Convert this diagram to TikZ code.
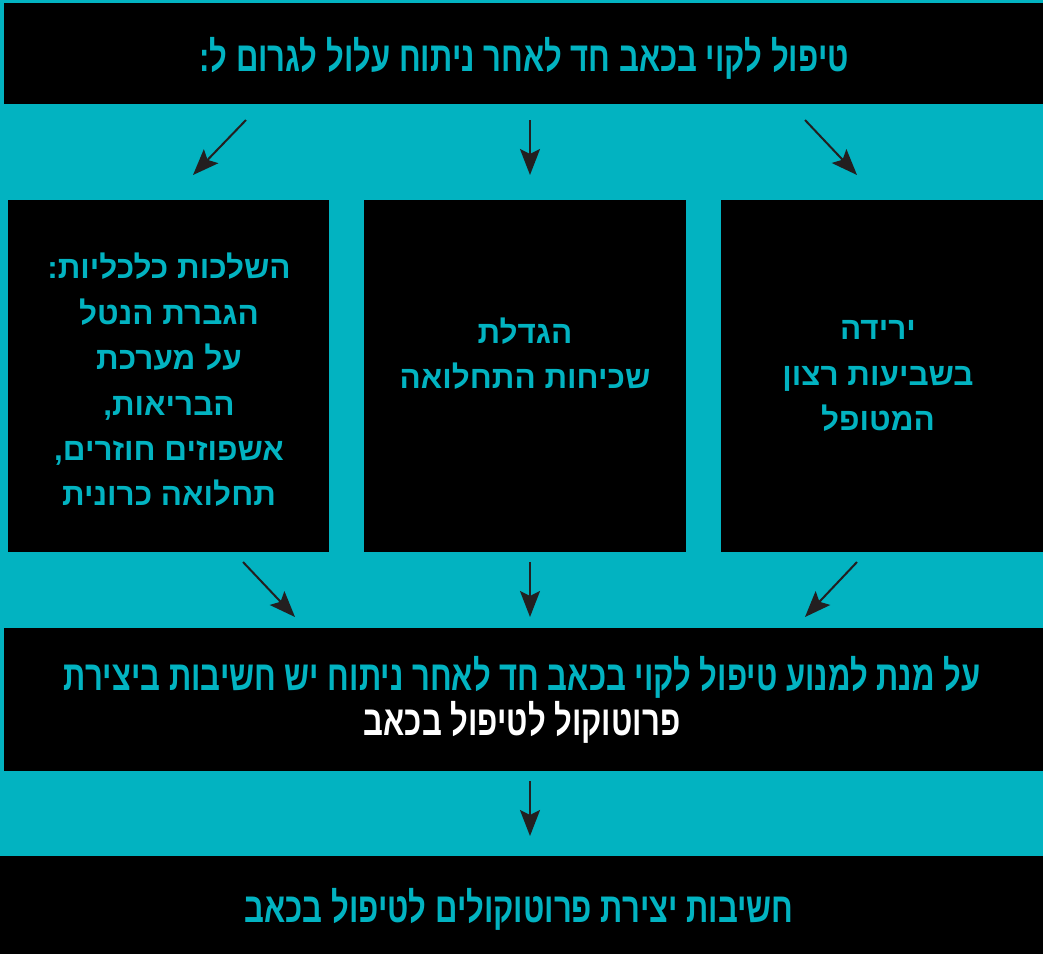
\documentclass[tikz,border=0pt]{standalone}
\usepackage{fontspec}
\usetikzlibrary{arrows.meta}
\TeXXeTstate=1
\newfontfamily\hebbox[Script=Hebrew]{Liberation Sans}
\newfontfamily\hebcond[Script=Hebrew,FakeStretch=0.74]{Liberation Sans}
\newcommand{\rtlln}[1]{\beginR #1\endR}
\definecolor{tealc}{HTML}{02B3C1}
\definecolor{arr}{HTML}{231F20}
\begin{document}
\begin{tikzpicture}[x=1pt,y=-1pt,
  blk/.style={fill=black,draw=none,inner sep=0pt,outer sep=0pt},
  condtxt/.style={inner sep=0pt,align=center,text=tealc,font=\hebcond\bfseries\fontsize{42}{45}\selectfont},
  boxtxt/.style={inner sep=0pt,align=center,text=tealc,font=\hebbox\bfseries\fontsize{31.5}{45.4}\selectfont},
  arrw/.style={draw=arr,line width=2pt,-{Stealth[length=26pt,width=20pt,inset=5pt]}}]
\useasboundingbox (0,0) rectangle (1043,954);
\fill[tealc] (0,0) rectangle (1043,954);
% boxes
\node[blk,minimum width=1039pt,minimum height=101pt] (top) at (523.5,53.5) {};
\node[blk,minimum width=321pt,minimum height=352pt] (L) at (168.5,376) {};
\node[blk,minimum width=322pt,minimum height=352pt] (M) at (525,376) {};
\node[blk,minimum width=322pt,minimum height=352pt] (R) at (882,376) {};
\node[blk,minimum width=1039pt,minimum height=143pt] (mid) at (523.5,699.5) {};
\node[blk,minimum width=1043pt,minimum height=98pt] (bot) at (521.5,905) {};
% texts
\node[condtxt] (ttop) at (524,58) {\rtlln{טיפול לקוי בכאב חד לאחר ניתוח עלול לגרום ל:}};
\node[boxtxt] (tL) at (169,380) {\rtlln{השלכות כלכליות:}\\\rtlln{הגברת הנטל}\\\rtlln{על מערכת}\\\rtlln{הבריאות,}\\\rtlln{אשפוזים חוזרים,}\\\rtlln{תחלואה כרונית}};
\node[boxtxt] (tM) at (525,353.5) {\rtlln{הגדלת}\\\rtlln{שכיחות התחלואה}};
\node[boxtxt] (tR) at (878,376) {\rtlln{ירידה}\\\rtlln{בשביעות רצון}\\\rtlln{המטופל}};
\node[condtxt] (tmid) at (522,700) {\rtlln{על מנת למנוע טיפול לקוי בכאב חד לאחר ניתוח יש חשיבות ביצירת}\\\textcolor{white}{\rtlln{פרוטוקול לטיפול בכאב}}};
\node[condtxt] (tbot) at (519,909) {\rtlln{חשיבות יצירת פרוטוקולים לטיפול בכאב}};
% arrow end points
\coordinate (a1s) at (246,120); \coordinate (a1e) at (193,175);
\coordinate (a2s) at (530,120); \coordinate (a2e) at (530,175);
\coordinate (a3s) at (805,120); \coordinate (a3e) at (857,175);
\coordinate (b1s) at (243,562); \coordinate (b1e) at (295,617);
\coordinate (b2s) at (530,562); \coordinate (b2e) at (530,617);
\coordinate (b3s) at (857,562); \coordinate (b3e) at (805,617);
\coordinate (cs) at (530,781); \coordinate (ce) at (530,836);
\draw[arrw] (a1s) -- (a1e);
\draw[arrw] (a2s) -- (a2e);
\draw[arrw] (a3s) -- (a3e);
\draw[arrw] (b1s) -- (b1e);
\draw[arrw] (b2s) -- (b2e);
\draw[arrw] (b3s) -- (b3e);
\draw[arrw] (cs) -- (ce);
\end{tikzpicture}
\end{document}
